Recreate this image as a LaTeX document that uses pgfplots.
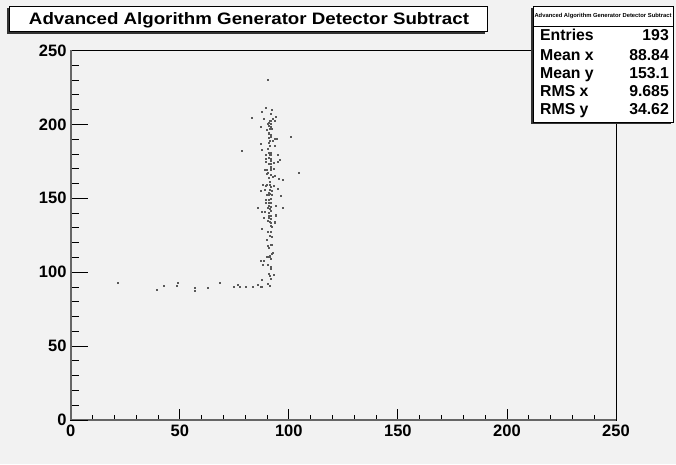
\documentclass[border=0pt]{standalone}
\usepackage{pgfplots}
\pgfplotsset{compat=1.18}
\usepackage{graphicx}
\usepackage{fontspec}
\setmainfont{Liberation Sans}
\definecolor{bggray}{RGB}{242,242,242}
\pgfplotstableread{
x y
21.6 93.1
39.5 88.3
42.8 90.6
48.6 90.6
49.1 92.6
56.7 87.2
57.0 89.2
91.2 161.3
97.0 162.4
88.0 159.2
89.7 159.2
91.2 159.2
92.9 158.6
89.2 158.6
91.6 157.9
94.7 156.5
86.9 155.2
89.1 155.8
91.3 155.8
92.0 155.2
90.9 153.8
89.8 152.4
90.7 152.4
92.3 152.4
91.2 153.1
96.1 151.8
89.4 149.0
91.8 149.7
90.9 149.0
89.5 147.0
90.7 147.0
91.6 147.0
90.9 145.0
93.8 145.0
85.9 143.8
91.5 144.3
97.0 143.8
90.4 143.8
91.3 142.9
91.8 141.6
87.7 140.9
88.9 140.9
90.7 140.4
94.2 138.9
94.2 138.2
90.9 138.2
91.5 138.2
88.3 137.0
91.0 137.0
91.8 136.1
90.3 135.0
91.3 134.3
91.5 133.4
93.3 133.4
93.3 134.1
91.5 131.8
92.0 130.5
87.5 129.1
90.1 127.7
91.6 127.7
91.2 124.6
92.3 123.9
89.8 122.1
90.4 117.6
90.7 116.9
92.3 118.9
91.5 118.3
92.6 113.5
92.0 112.6
91.3 111.5
89.8 110.8
90.3 110.8
91.3 110.3
91.5 109.0
87.1 107.8
88.3 107.8
88.0 105.1
90.3 105.1
91.5 103.5
91.5 102.2
90.7 99.2
93.2 98.6
91.2 97.4
87.7 95.2
91.6 95.4
68.5 93.1
76.4 91.8
77.3 90.4
74.8 90.4
80.4 90.4
83.6 90.4
85.6 91.3
86.9 90.4
87.5 90.4
62.9 89.7
90.3 92.4
91.3 91.1
90.3 230.3
89.4 211.1
92.0 209.7
87.7 208.3
91.5 207.0
94.2 204.9
83.0 204.5
88.6 203.6
92.4 203.6
91.2 202.5
91.6 202.5
93.5 202.2
90.7 201.3
90.3 200.2
91.6 200.2
90.9 199.3
87.1 198.6
91.6 198.4
89.8 196.6
91.2 197.3
92.0 197.3
90.6 194.1
90.9 193.4
91.8 193.2
91.5 192.0
90.9 190.9
93.5 190.2
92.7 189.3
100.8 191.6
94.5 190.5
91.2 188.9
90.9 187.3
87.1 187.1
93.3 185.9
91.2 185.5
87.7 183.2
90.3 183.7
78.6 181.9
90.6 180.9
91.5 180.9
91.2 179.8
89.4 179.4
91.8 179.4
94.7 179.8
90.9 177.6
89.4 176.9
91.6 176.9
91.8 175.7
89.4 175.1
95.9 176.4
94.7 175.1
92.9 174.4
91.0 173.7
91.6 173.5
90.6 173.5
91.8 171.4
91.8 170.1
91.5 169.4
93.2 170.3
89.1 169.2
89.8 169.6
90.4 167.4
89.7 166.9
91.6 166.2
93.6 165.6
91.0 164.0
92.6 164.4
95.2 163.5
104.4 167.1
}\scatterdata
\begin{document}
\begin{tikzpicture}
\fill[bggray] (0,0) rectangle (676pt,464pt);
\pgfplotsset{rootgeom/.style={at={(70.7pt,44pt)}, anchor=south west, scale only axis,
  width=545.3pt, height=369.5pt, xmin=0, xmax=250, ymin=0, ymax=250}}
% frame
\begin{axis}[rootgeom, xtick=\empty, ytick=\empty, axis line style={black, line width=0.8pt}]
\end{axis}
% x axis with data
\begin{axis}[rootgeom, axis x line=bottom, axis y line=none,
  axis line style={-, draw=black!60, line width=1.6pt},
  xtick={0,50,100,150,200,250}, xticklabels={0,50,100,150,200,250},
  minor x tick num=4, tick align=inside,
  major tick length=11pt, minor tick length=5.5pt,
  every tick/.style={black, line width=0.8pt},
  xticklabel style={font=\fontsize{16.5}{18}\selectfont\bfseries, inner sep=2pt, yshift=-3pt}]
\addplot[only marks, mark=square*, mark size=0.5pt, color=black!65] table[x=x,y=y] {\scatterdata};
\end{axis}
% y axis
\begin{axis}[rootgeom, axis y line=left, axis x line=none,
  axis line style={-, draw=black!60, line width=1.6pt},
  ytick={0,50,100,150,200,250}, yticklabels={0,50,100,150,200,250},
  minor y tick num=4, tick align=inside,
  major tick length=17pt, minor tick length=8.5pt,
  every tick/.style={black, line width=0.8pt},
  yticklabel style={font=\fontsize{16.5}{18}\selectfont\bfseries, inner sep=2pt, xshift=-2pt}]
\end{axis}
% title box
\fill[black!80] (7.3pt,430.3pt) rectangle (485pt,456pt);
\filldraw[fill=white, draw=black, line width=0.8pt] (9.3pt,432.3pt) rectangle (487pt,458pt);
\node[anchor=base, inner sep=0pt] at (249pt,439.5pt) {\resizebox{440pt}{12pt}{\bfseries Advanced Algorithm Generator Detector Subtract}};
% stats box
\fill[black!80] (531pt,340pt) rectangle (671pt,456pt);
\filldraw[fill=white, draw=black, line width=0.8pt] (533pt,342pt) rectangle (673pt,458pt);
\draw[black, line width=0.6pt] (533pt,437.3pt) -- (673pt,437.3pt);
\node[anchor=center, inner sep=0pt] at (603pt,447.6pt) {\resizebox{137pt}{!}{\bfseries Advanced Algorithm Generator Detector Subtract}};
\begin{scope}[every node/.style={font=\fontsize{15.8}{17}\selectfont\bfseries, inner sep=0pt}]
\node[anchor=base west] at (540pt,423.3pt) {Entries};
\node[anchor=base east] at (669pt,423.3pt) {193};
\node[anchor=base west] at (540pt,403.7pt) {Mean x};
\node[anchor=base east] at (669pt,403.7pt) {88.84};
\node[anchor=base west] at (540pt,385.5pt) {Mean y};
\node[anchor=base east] at (669pt,385.5pt) {153.1};
\node[anchor=base west] at (540pt,367.2pt) {RMS x};
\node[anchor=base east] at (669pt,367.2pt) {9.685};
\node[anchor=base west] at (540pt,349.5pt) {RMS y};
\node[anchor=base east] at (669pt,349.5pt) {34.62};
\end{scope}
\pgfresetboundingbox
\useasboundingbox (0,0) rectangle (676pt,464pt);
\end{tikzpicture}
\end{document}
